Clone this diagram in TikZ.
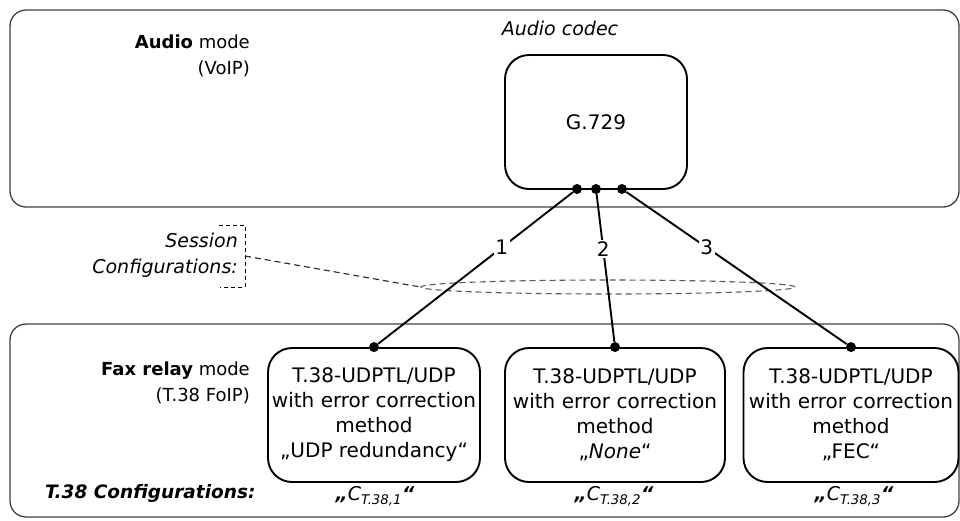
\documentclass[tikz,border=0pt]{standalone}
\usepackage{fontspec}
\setmainfont{DejaVu Sans}
\usetikzlibrary{shapes.geometric}
\tikzset{
  panel/.style={draw=black!75, line width=1.3pt, rounded corners=16pt},
  cfgbox/.style={draw=black, line width=1.9pt, rounded corners=24pt, align=center,
    font=\fontsize{20}{25}\selectfont, inner sep=0pt},
  dotnode/.style={circle, fill=black, inner sep=0pt, minimum size=10pt},
  conn/.style={line width=1.9pt},
  numlabel/.style={fill=white, inner sep=1.5pt, font=\fontsize{20}{24}\selectfont},
  sidelabel/.style={align=right, font=\fontsize{18}{26}\selectfont, inner sep=0pt},
  ilabel/.style={font=\fontsize{19}{26}\selectfont\itshape, inner sep=0pt},
  clabel/.style={font=\fontsize{19}{24}\selectfont\itshape, inner sep=0pt},
  dashline/.style={dash pattern=on 6pt off 4pt, line width=1.1pt},
  bracketline/.style={dash pattern=on 4pt off 3pt, line width=0.9pt}
}
\begin{document}
\begin{tikzpicture}[x=1pt,y=-1pt]
\useasboundingbox (0,0) rectangle (960,520);
% panels
\draw[panel] (10,10) rectangle (959,207);
\draw[panel] (10,324) rectangle (959,517);
% top panel
\node[sidelabel, anchor=east] (amode) at (250,56) {\textbf{Audio} mode\\(VoIP)};
\node[ilabel] (acodec) at (560,28) {Audio codec};
\node[cfgbox, minimum width=182, minimum height=134] (g) at (596,122) {G.729};
% bottom panel
\node[sidelabel, anchor=east] (fmode) at (250,383) {\textbf{Fax relay} mode\\(T.38 FoIP)};
\node[cfgbox, minimum width=212, minimum height=134] (b1) at (374,415)
  {T.38-UDPTL/UDP\\with error correction\\method\\„UDP redundancy“};
\node[cfgbox, minimum width=220, minimum height=134] (b2) at (615,415)
  {T.38-UDPTL/UDP\\with error correction\\method\\„\textit{None}“};
\node[cfgbox, minimum width=215, minimum height=134] (b3) at (851,415)
  {T.38-UDPTL/UDP\\with error correction\\method\\„FEC“};
\node[anchor=west, inner sep=0pt, font=\fontsize{18.5}{24}\selectfont\bfseries\itshape] (t38) at (45,493) {T.38 Configurations:};
\node[clabel] (c1) at (375,496) {\textbf{„}C\textsubscript{T.38,1}\textbf{“}};
\node[clabel] (c2) at (614,496) {\textbf{„}C\textsubscript{T.38,2}\textbf{“}};
\node[clabel] (c3) at (854,496) {\textbf{„}C\textsubscript{T.38,3}\textbf{“}};
% session configurations
\node[ilabel, align=right, anchor=east] (sess) at (238,255) {Session\\Configurations:};
\coordinate (bt) at (245,225);
\coordinate (bb) at (245,287);
\coordinate (bm) at (245,256);
\draw[bracketline] (219,225) -- (bt) -- (bb) -- (220,287);
\node[ellipse, draw=black!65, dashline, minimum width=374, minimum height=14, inner sep=0pt] (ell) at (608,287) {};
\draw[dashline, black!85] (bm) -- (ell.west);
% dots
\node[dotnode] (d1) at (577,189) {};
\node[dotnode] (d2) at (596,189) {};
\node[dotnode] (d3) at (622,189) {};
\node[dotnode] (e1) at (b1.north) {};
\node[dotnode] (e2) at (b2.north) {};
\node[dotnode] (e3) at (b3.north) {};
% connectors
\draw[conn] (d1) -- node[numlabel, pos=0.365] {1} (e1);
\draw[conn] (d2) -- node[numlabel, pos=0.37] {2} (e2);
\draw[conn] (d3) -- node[numlabel, pos=0.365] {3} (e3);
\end{tikzpicture}
\end{document}
